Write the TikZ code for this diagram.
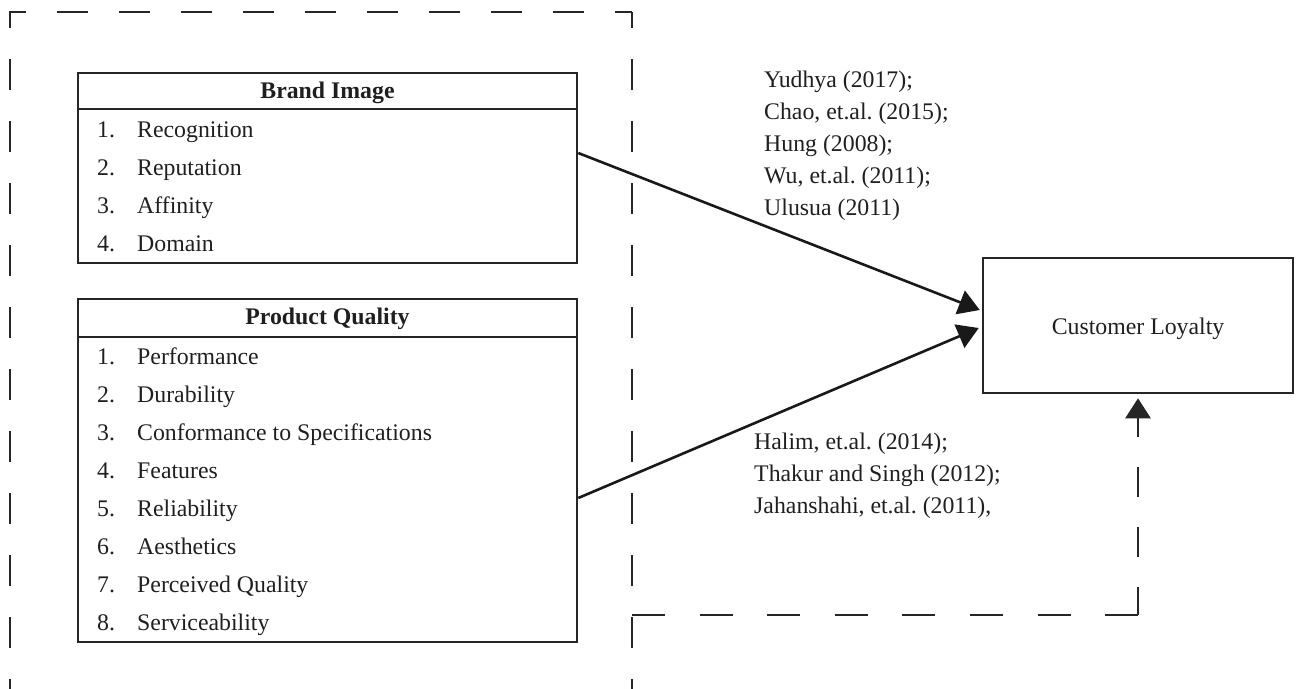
\documentclass[tikz,border=0pt]{standalone}
\usepackage{fontspec}
\setmainfont{Liberation Serif}
\usetikzlibrary{arrows.meta,calc}
\begin{document}
\frenchspacing
\begin{tikzpicture}[x=1pt,y=-1pt,
  every node/.style={font=\fontsize{23.8pt}{28pt}\selectfont, inner sep=0pt, text=black!88},
  box/.style={draw=black!85, line width=2.5pt, fill=none},
  txt/.style={anchor=base west},
  arr/.style={draw=black!90, line width=2.6pt, -{Triangle[length=21pt,width=25pt]}},
  dashline/.style={draw=black!85, line width=2.7pt}
]
\useasboundingbox (0,0) rectangle (1297,688);

% outer dashed frame
\draw[dashline, dash pattern=on 31pt off 31pt, dash phase=9.5pt] (10,700) -- (10,12) -- (632,12);
\draw[dashline, dash pattern=on 31pt off 31pt, dash phase=9.5pt] (632,700) -- (632,12);

% Brand Image box
\node[box, minimum width=499pt, minimum height=190pt] (bi) at (327.5,168) {};
\draw[box] (bi.west |- 0,109) -- (bi.east |- 0,109);
\node[anchor=base] (bih) at (327.5,98) {\bfseries Brand Image};
\node[txt] (bn1) at (97,137) {1.};  \node[txt] (bt1) at (137,137) {Recognition};
\node[txt] (bn2) at (97,175) {2.};  \node[txt] (bt2) at (137,175) {Reputation};
\node[txt] (bn3) at (97,213) {3.};  \node[txt] (bt3) at (137,213) {Affinity};
\node[txt] (bn4) at (97,251) {4.};  \node[txt] (bt4) at (137,251) {Domain};

% Product Quality box
\node[box, minimum width=499pt, minimum height=343pt] (pq) at (327.5,470.5) {};
\draw[box] (pq.west |- 0,337) -- (pq.east |- 0,337);
\node[anchor=base] (pqh) at (327.5,324) {\bfseries Product Quality};
\node[txt] (pn1) at (97,364) {1.};  \node[txt] (pt1) at (137,364) {Performance};
\node[txt] (pn2) at (97,402) {2.};  \node[txt] (pt2) at (137,402) {Durability};
\node[txt] (pn3) at (97,440) {3.};  \node[txt] (pt3) at (137,440) {Conformance to Specifications};
\node[txt] (pn4) at (97,478) {4.};  \node[txt] (pt4) at (137,478) {Features};
\node[txt] (pn5) at (97,516) {5.};  \node[txt] (pt5) at (137,516) {Reliability};
\node[txt] (pn6) at (97,554) {6.};  \node[txt] (pt6) at (137,554) {Aesthetics};
\node[txt] (pn7) at (97,592) {7.};  \node[txt] (pt7) at (137,592) {Perceived Quality};
\node[txt] (pn8) at (97,630) {8.};  \node[txt] (pt8) at (137,630) {Serviceability};

% Customer Loyalty box
\node[box, minimum width=310pt, minimum height=135pt] (cl) at (1138,325.5) {};
\node[anchor=base] (clt) at (1138,334) {Customer Loyalty};

% citations
\node[txt] (c1) at (764,87) {Yudhya (2017);};
\node[txt] (c2) at (764,119) {Chao, et.al. (2015);};
\node[txt] (c3) at (764,151) {Hung (2008);};
\node[txt] (c4) at (764,183) {Wu, et.al. (2011);};
\node[txt] (c5) at (764,215) {Ulusua (2011)};
\node[txt] (c6) at (754,449) {Halim, et.al. (2014);};
\node[txt] (c7) at (754,481) {Thakur and Singh (2012);};
\node[txt] (c8) at (754,513) {Jahanshahi, et.al. (2011),};

% arrows
\draw[arr] ([yshift=15pt]bi.east) -- ([yshift=15.5pt,xshift=-2pt]cl.west);
\draw[arr] ([yshift=-27.5pt]pq.east) -- ([yshift=-2.5pt,xshift=-3pt]cl.west);

% feedback dashed connector
\coordinate (fb0) at (632,615);
\coordinate (fb1) at (1138,615);
\draw[dashline, dash pattern=on 33pt off 34.6pt] (fb0) -- (fb1);
\draw[dashline, dash pattern=on 30pt off 30pt, dash phase=2pt, -{Triangle[length=20pt,width=25pt]}] (fb1) -- ([yshift=-4pt]cl.south);
\end{tikzpicture}
\end{document}
